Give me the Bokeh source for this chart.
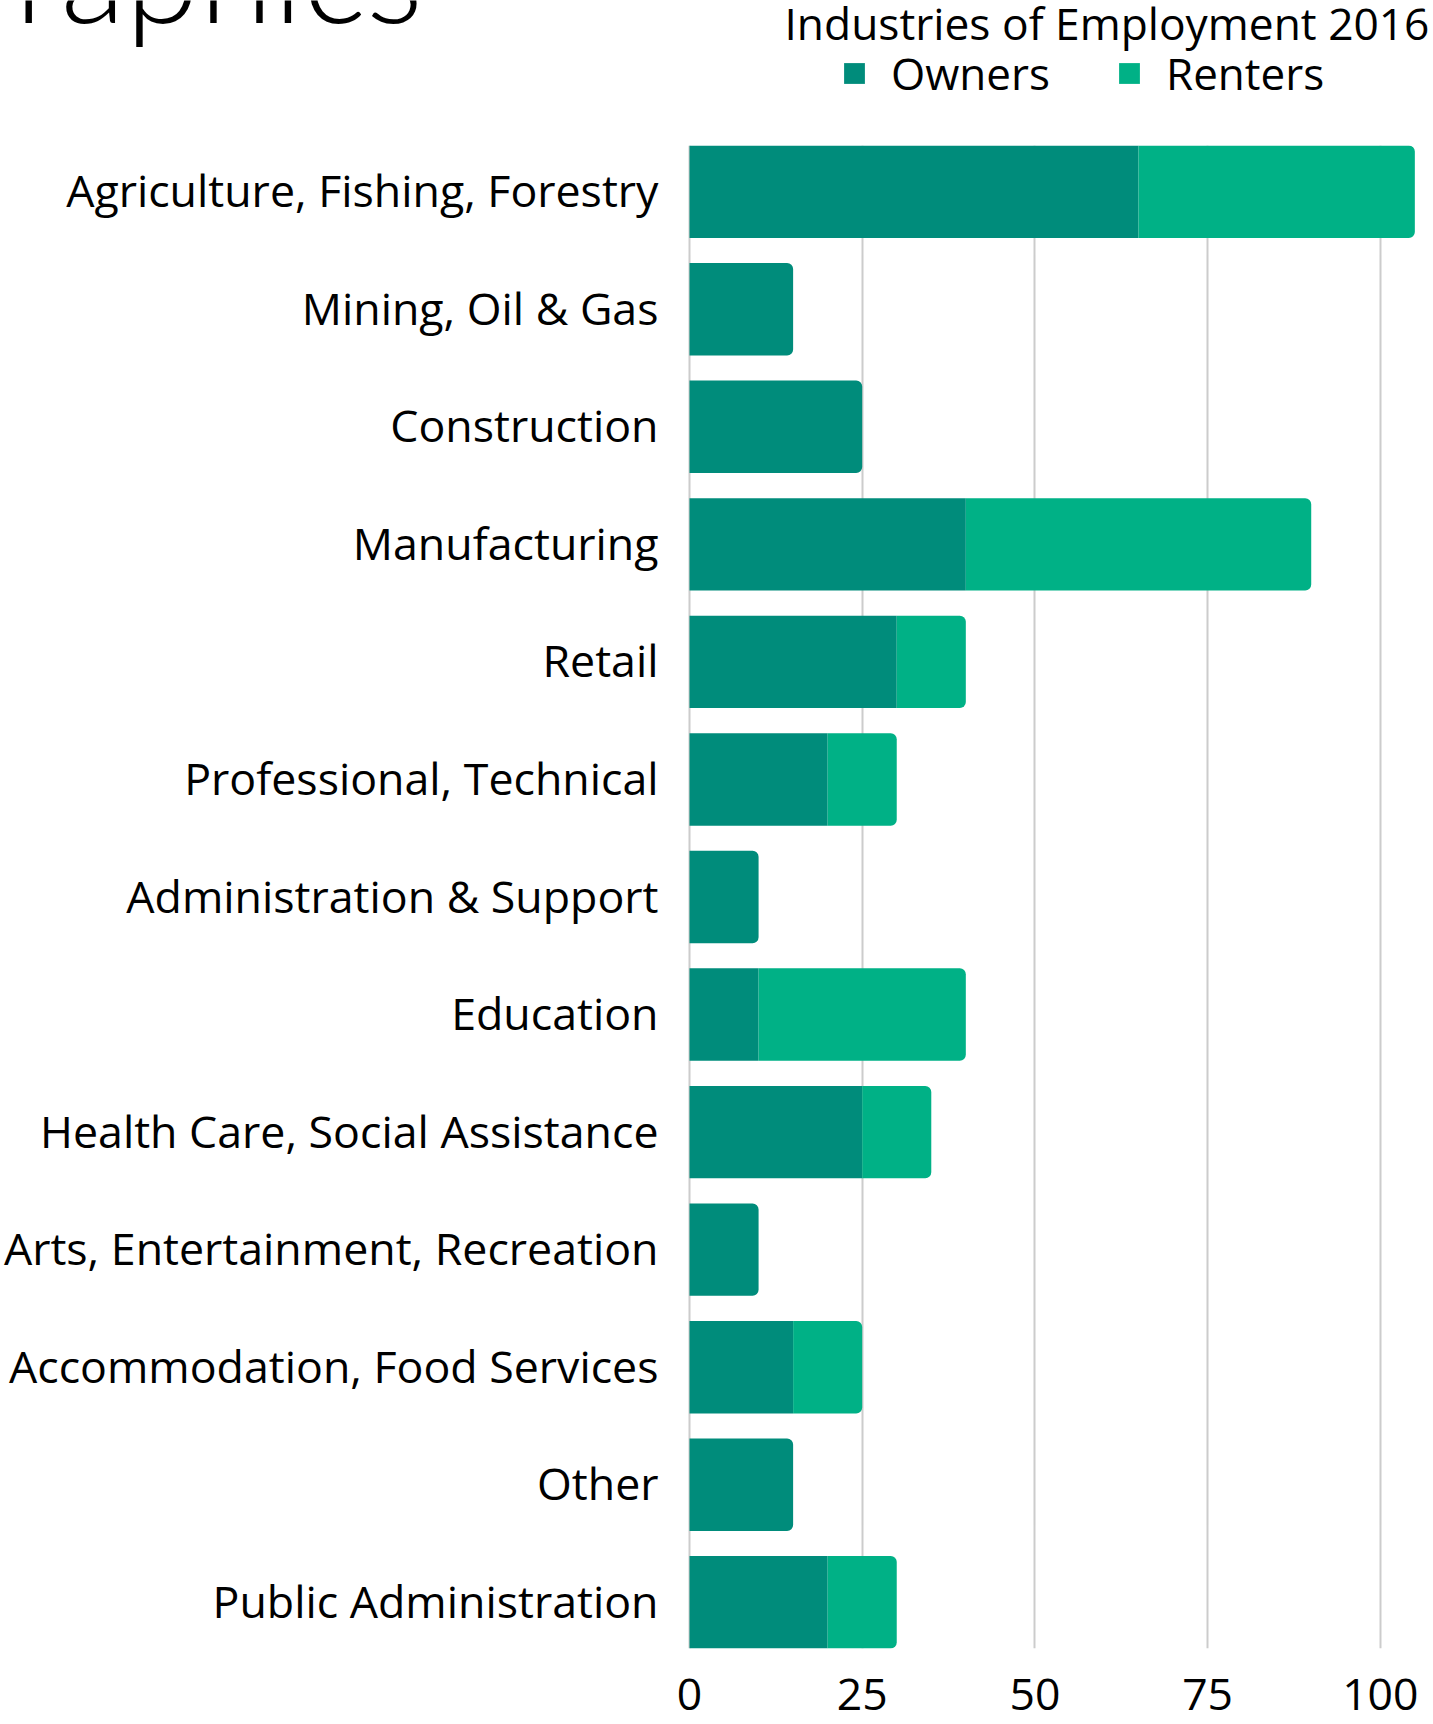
from bokeh.plotting import figure
from bokeh.layouts import column
from bokeh.models import (Range1d, FactorRange, ColumnDataSource, CDSView, BooleanFilter,
                          Label, Legend, LegendItem, FixedTicker)
from bokeh.core.properties import value
from bokeh.embed import file_html
from bokeh.resources import INLINE

categories = ["Agriculture, Fishing, Forestry", "Mining, Oil & Gas", "Construction",
              "Manufacturing", "Retail", "Professional, Technical", "Administration & Support",
              "Education", "Health Care, Social Assistance", "Arts, Entertainment, Recreation",
              "Accommodation, Food Services", "Other", "Public Administration"]
owners = [65, 15, 25, 40, 30, 20, 10, 10, 25, 10, 15, 15, 20]
renters = [40, 0, 0, 50, 10, 10, 0, 30, 10, 0, 10, 0, 10]
x_ticks = [0, 25, 50, 75, 100]
series_names = ["Owners", "Renters"]
legend_title = "Industries of Employment 2016"
page_title = "raphics"

OWN = "#008c7b"
REN = "#00b186"
FONT = "Open Sans"
FW = 1433           # frame width = page width
HEAD_H = 145
ORIGIN_PX = 689     # pixel position of value 0
PXU = 6.908         # pixels per value unit
X_LO = -ORIGIN_PX / PXU
X_HI = (FW - ORIGIN_PX) / PXU

# ---------- header (cut-off page title + legend) ----------
head = figure(frame_width=FW, frame_height=HEAD_H, x_range=Range1d(0, FW),
              y_range=Range1d(0, HEAD_H), output_backend="svg", toolbar_location=None,
              min_border=0, x_axis_location=None, y_axis_location=None)
head.grid.visible = False
head.outline_line_color = None
swatch = ColumnDataSource(dict(y=[-HEAD_H], r=[0]))   # off-frame, only feeds the legend swatches
g_own = head.hbar(y="y", right="r", height=1, source=swatch, fill_color=OWN, line_color=None)
g_ren = head.hbar(y="y", right="r", height=1, source=swatch, fill_color=REN, line_color=None)
legend = Legend(items=[LegendItem(label=series_names[0], renderers=[g_own]),
                       LegendItem(label=series_names[1], renderers=[g_ren])],
                orientation="horizontal", location=(841, 42),
                glyph_width=26, glyph_height=26, label_standoff=24, spacing=66,
                padding=0, margin=0, border_line_color=None, background_fill_alpha=0,
                label_text_font=FONT, label_text_font_size="44px", label_text_color="#000000")
head.add_layout(legend, "center")
head.add_layout(Label(x=784, y=123, text=legend_title,
                      text_font=FONT, text_font_size="44.3px", text_color="#000000",
                      text_baseline="alphabetic"))
head.add_layout(Label(x=14, y=174, text=page_title,
                      text_font="Lato Light, Lato", text_font_size="134px", text_color="#000000",
                      text_baseline="alphabetic"))

# ---------- main chart ----------
totals = [o + r for o, r in zip(owners, renters)]
src = ColumnDataSource(dict(cat=categories, zero=[0] * len(owners), own=owners, tot=totals))

yr = FactorRange(factors=list(reversed(categories)), range_padding=-0.107,
                 range_padding_units="absolute")
p = figure(frame_width=FW, frame_height=1503, y_range=yr, x_range=Range1d(X_LO, X_HI),
           output_backend="svg", toolbar_location=None, y_axis_location=None,
           min_border=0)
p.outline_line_color = None
p.ygrid.visible = False
p.xgrid.grid_line_color = "#cccccc"
p.xgrid.grid_line_width = 2
p.xaxis.ticker = FixedTicker(ticks=x_ticks)
p.xgrid.ticker = FixedTicker(ticks=x_ticks)

xa = p.xaxis[0]
xa.axis_line_color = None
xa.major_tick_line_color = None
xa.minor_tick_line_color = None
xa.major_label_text_font = FONT
xa.major_label_text_font_size = "44.5px"
xa.major_label_text_color = "#000000"
xa.major_label_standoff = 24

# category labels, right-aligned just left of the value axis origin
p.text(x="zero", y="cat", text="cat", source=src, x_offset=-31, y_offset=-2,
       text_align="right", text_baseline="middle", text_font=value(FONT),
       text_font_size="44.7px", text_color="#000000")

has_r = [r > 0 for r in renters]
no_r = [not h for h in has_r]
H = 0.786
p.hbar(y="cat", left="zero", right="own", height=H, source=src,
       view=CDSView(filter=BooleanFilter(has_r)),
       fill_color=OWN, line_color=None)
p.hbar(y="cat", left="zero", right="own", height=H, source=src,
       view=CDSView(filter=BooleanFilter(no_r)),
       fill_color=OWN, line_color=None, border_radius=(0, 6, 6, 0))
p.hbar(y="cat", left="own", right="tot", height=H, source=src,
       view=CDSView(filter=BooleanFilter(has_r)),
       fill_color=REN, line_color=None, border_radius=(0, 6, 6, 0))

page = column(head, p, spacing=0)
open("out.html", "w").write(file_html(page, INLINE))
